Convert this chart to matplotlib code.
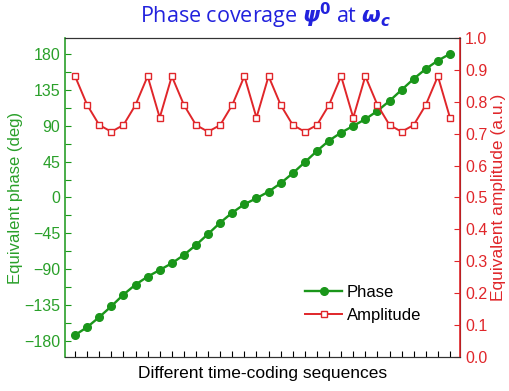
import numpy as np
import matplotlib.pyplot as plt
from matplotlib.ticker import MultipleLocator

# Data
seq = list(range(1, 33))
phase = [-172.5, -162.6, -150.0, -136.4, -121.8, -109.3, -99.3, -90.9,
         -82.5, -72.1, -59.6, -45.8, -31.6, -19.0, -8.5, -1.0,
         7.3, 17.8, 30.4, 44.2, 58.3, 71.3, 81.3, 89.7,
         98.1, 108.5, 121.0, 134.9, 148.7, 161.2, 171.6, 180.0]
amp_cycle = [0.88, 0.79, 0.727, 0.706, 0.727, 0.79, 0.88, 0.75]
amplitude = amp_cycle * 4

GREEN = '#1a961a'
LGREEN = '#2aa02a'
RED = '#e0262a'

plt.rcParams['font.family'] = ['Liberation Sans', 'DejaVu Sans']

fig = plt.figure(figsize=(5.1, 3.91), dpi=100)
ax = fig.add_axes([0.1275, 0.087, 0.7745, 0.816])
ax2 = ax.twinx()

ln1, = ax.plot(seq, phase, color=GREEN, marker='o', markersize=5.5, lw=1.7, label='Phase')
ln2, = ax2.plot(seq, amplitude, color=RED, marker='s', markersize=4.5, lw=1.4,
                markerfacecolor='white', markeredgecolor=RED, label='Amplitude')

ax.set_xlim(0.17, 32.83)
ax.set_ylim(-200, 200)
ax2.set_ylim(0, 1.0)

ax.set_xticks(seq)
ax.set_xticklabels([])
ax.tick_params(axis='x', direction='in', length=4, width=0.8)
ax.set_yticks(np.arange(-180, 181, 45))
ax.yaxis.set_minor_locator(MultipleLocator(22.5))
ax.tick_params(axis='y', which='both', direction='in', length=4, width=0.8,
               colors=GREEN, labelsize=11.5, labelcolor=LGREEN)
ax2.set_yticks(np.arange(0, 1.01, 0.1))
ax2.tick_params(axis='y', direction='in', length=4, width=0.8,
                colors=RED, labelsize=11.5, labelcolor=RED)

ax.spines['left'].set_color(LGREEN)
ax.spines['left'].set_linewidth(1.2)
ax2.spines['left'].set_visible(False)
ax2.spines['right'].set_color(RED)
ax2.spines['right'].set_linewidth(1.2)
for a in (ax, ax2):
    a.spines['top'].set_color('#333333')
    a.spines['bottom'].set_color('#333333')

ax.set_ylabel('Equivalent phase (deg)', color=LGREEN, fontsize=12, labelpad=1)
ax2.set_ylabel('Equivalent amplitude (a.u.)', color=RED, fontsize=12.5, labelpad=3)
ax.set_xlabel('Different time-coding sequences', fontsize=12.5, labelpad=3)

fig.text(0.52, 0.96, r'Phase coverage $\mathbfit{\psi}^\mathbf{0}$ at $\mathbfit{\omega}_\mathbfit{c}$',
         ha='center', va='center', color='#2222dd', fontsize=15.5, family='Open Sans')

ax.legend([ln1, ln2], ['Phase', 'Amplitude'], loc='lower right',
          bbox_to_anchor=(0.94, 0.06), frameon=False, fontsize=12,
          handlelength=2.2, handletextpad=0.3, labelspacing=0.5)

fig.savefig('out.png', dpi=100)
